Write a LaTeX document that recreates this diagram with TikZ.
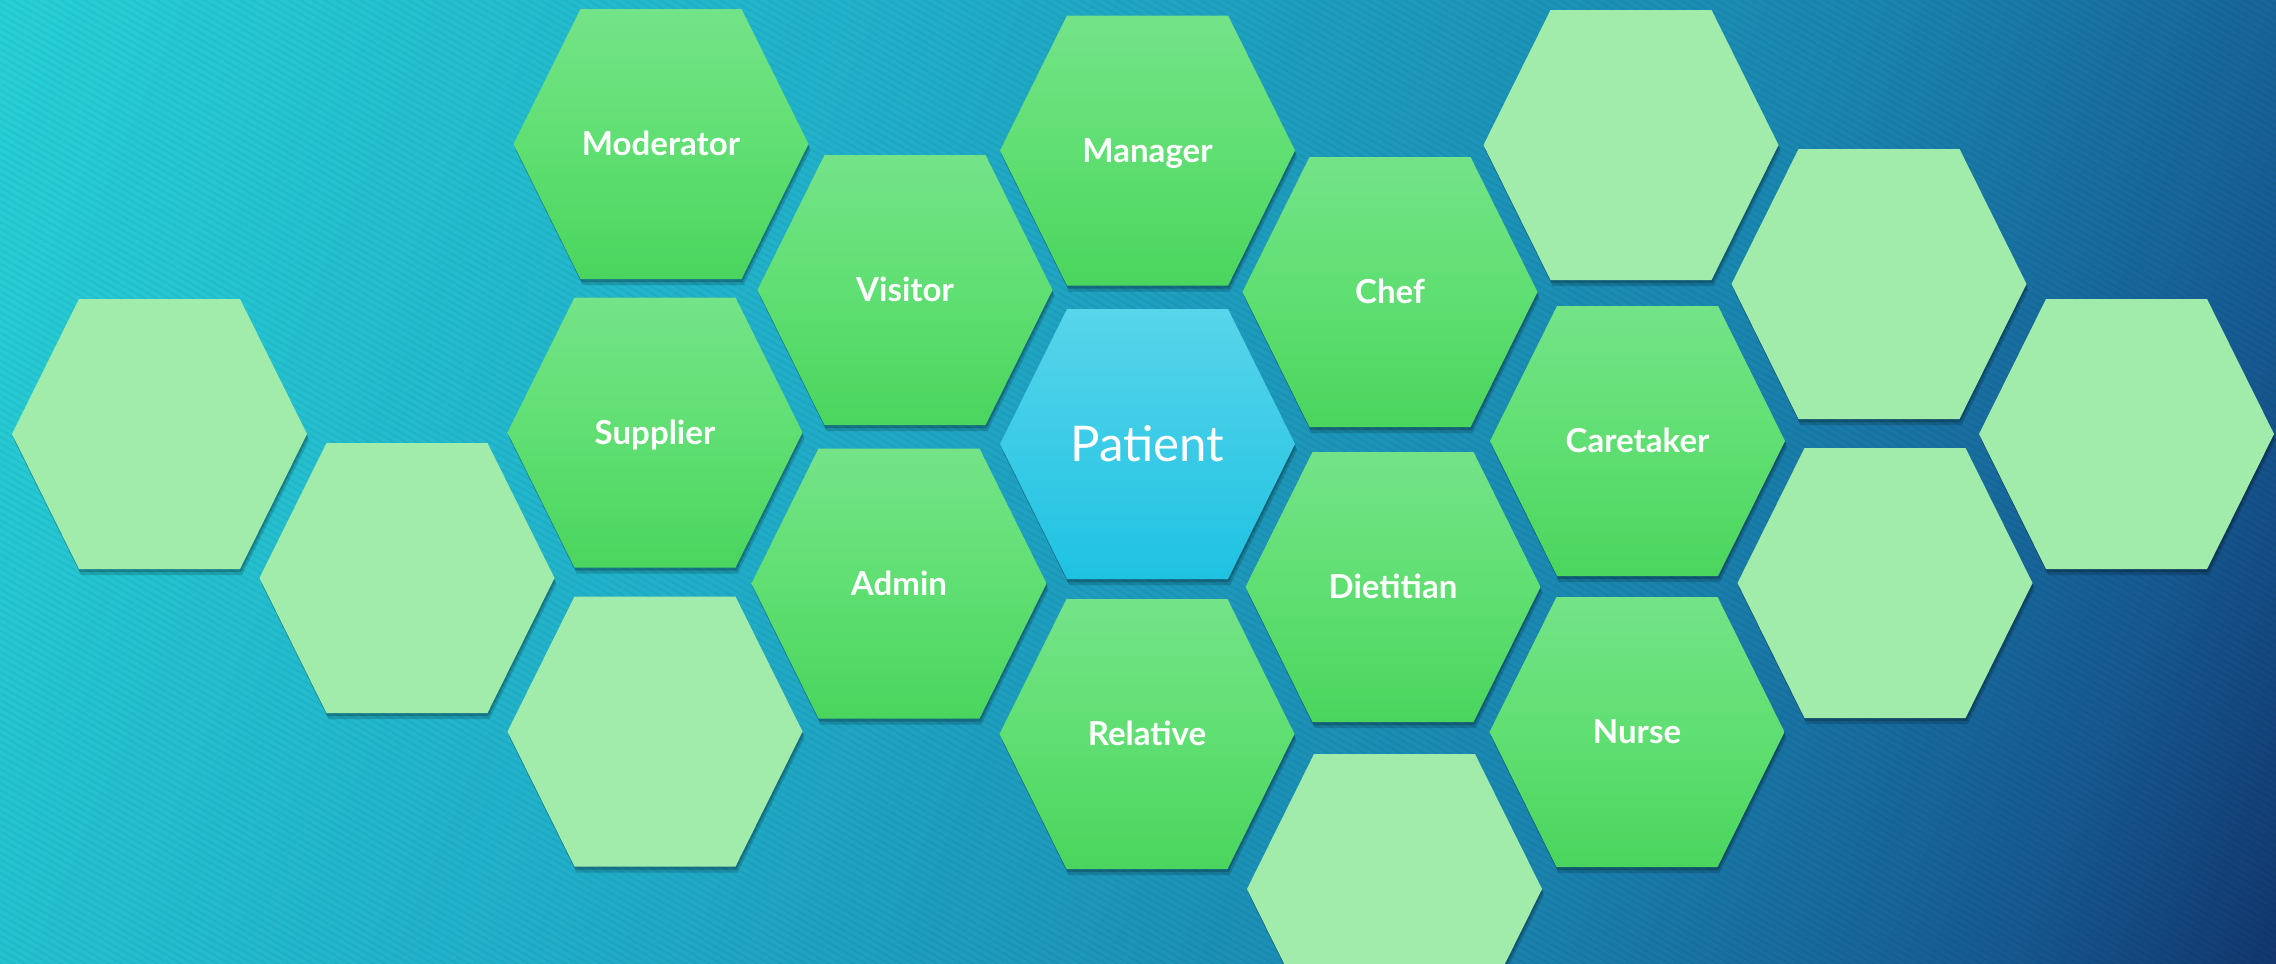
\documentclass[tikz,border=0pt]{standalone}
\usepackage{fontspec}
\setmainfont{Lato}
\usetikzlibrary{patterns.meta}
\definecolor{bgA}{HTML}{28D6D8}
\definecolor{bgB}{HTML}{21B0CA}
\definecolor{bgC}{HTML}{1A86B0}
\definecolor{bgD}{HTML}{165A92}
\definecolor{bgE}{HTML}{112D64}
\definecolor{greenTop}{HTML}{74E388}
\definecolor{greenMid}{HTML}{60DF72}
\definecolor{greenBot}{HTML}{4AD55E}
\definecolor{paleGreen}{HTML}{A1EBAB}
\definecolor{cyanTop}{HTML}{57D5EB}
\definecolor{cyanBot}{HTML}{1FC2E2}
\pgfdeclarehorizontalshading{bgshade}{100bp}{color(0bp)=(bgA); color(13bp)=(bgA); color(39bp)=(bgB); color(63bp)=(bgC); color(76bp)=(bgD); color(85bp)=(bgE); color(100bp)=(bgE)}
\tikzset{
  pics/hex/.style={code={
    \fill[black,opacity=.16,shift={(0.02,-0.06)}] (-1.475,0) -- (-0.805,1.35) -- (0.805,1.35) -- (1.475,0) -- (0.805,-1.35) -- (-0.805,-1.35) -- cycle;
    \fill[black,opacity=.2,shift={(0.01,-0.03)}] (-1.475,0) -- (-0.805,1.35) -- (0.805,1.35) -- (1.475,0) -- (0.805,-1.35) -- (-0.805,-1.35) -- cycle;
    \path[pic actions] (-1.475,0) -- (-0.805,1.35) -- (0.805,1.35) -- (1.475,0) -- (0.805,-1.35) -- (-0.805,-1.35) -- cycle;
  }},
  rolehex/.style={top color=greenTop, bottom color=greenBot, middle color=greenMid},
  emptyhex/.style={fill=paleGreen},
  patienthex/.style={top color=cyanTop, bottom color=cyanBot},
  rolelabel/.style={text=white, font=\bfseries\fontsize{9.4}{11}\selectfont, text height=6.8pt, text depth=0pt},
  patientlabel/.style={text=white, font=\fontsize{14}{16}\selectfont, text height=10.1pt, text depth=0pt}
}
\begin{document}
\begin{tikzpicture}
\clip (0,0) rectangle (22.76,9.63);
\shade[shading=bgshade, shading angle=-22.93] (0,0) rectangle (22.76,9.63);
\fill[pattern={Lines[angle=-30,distance=0.06cm,line width=0.02cm]}, pattern color=black, opacity=.04] (0,0) rectangle (22.76,9.63);

\pic[emptyhex] at (1.595,5.29) {hex};
\pic[emptyhex] at (4.07,3.85) {hex};
\pic[emptyhex] at (6.55,2.315) {hex};
\pic[emptyhex] at (16.31,8.18) {hex};
\pic[emptyhex] at (18.79,6.79) {hex};
\pic[emptyhex] at (18.85,3.80) {hex};
\pic[emptyhex] at (21.265,5.29) {hex};
\pic[emptyhex] at (13.945,0.74) {hex};

\pic[rolehex] at (6.61,8.19) {hex};
\pic[rolehex] at (11.475,8.125) {hex};
\pic[rolehex] at (9.05,6.73) {hex};
\pic[rolehex] at (13.90,6.71) {hex};
\pic[rolehex] at (6.55,5.305) {hex};
\pic[rolehex] at (8.99,3.795) {hex};
\pic[rolehex] at (16.375,5.22) {hex};
\pic[rolehex] at (13.93,3.76) {hex};
\pic[rolehex] at (11.47,2.29) {hex};
\pic[rolehex] at (16.37,2.31) {hex};
\pic[patienthex] at (11.475,5.19) {hex};

\node[rolelabel] (moderator) at (6.61,8.19) {Moderator};
\node[rolelabel] (manager) at (11.475,8.125) {Manager};
\node[rolelabel] (visitor) at (9.05,6.73) {Visitor};
\node[rolelabel] (chef) at (13.90,6.71) {Chef};
\node[rolelabel] (supplier) at (6.55,5.305) {Supplier};
\node[rolelabel] (admin) at (8.99,3.795) {Admin};
\node[rolelabel] (caretaker) at (16.375,5.22) {Caretaker};
\node[rolelabel] (dietitian) at (13.93,3.76) {Dietitian};
\node[rolelabel] (relative) at (11.47,2.29) {Relative};
\node[rolelabel] (nurse) at (16.37,2.31) {Nurse};
\node[patientlabel] (patient) at (11.475,5.19) {Patient};
\end{tikzpicture}
\end{document}
